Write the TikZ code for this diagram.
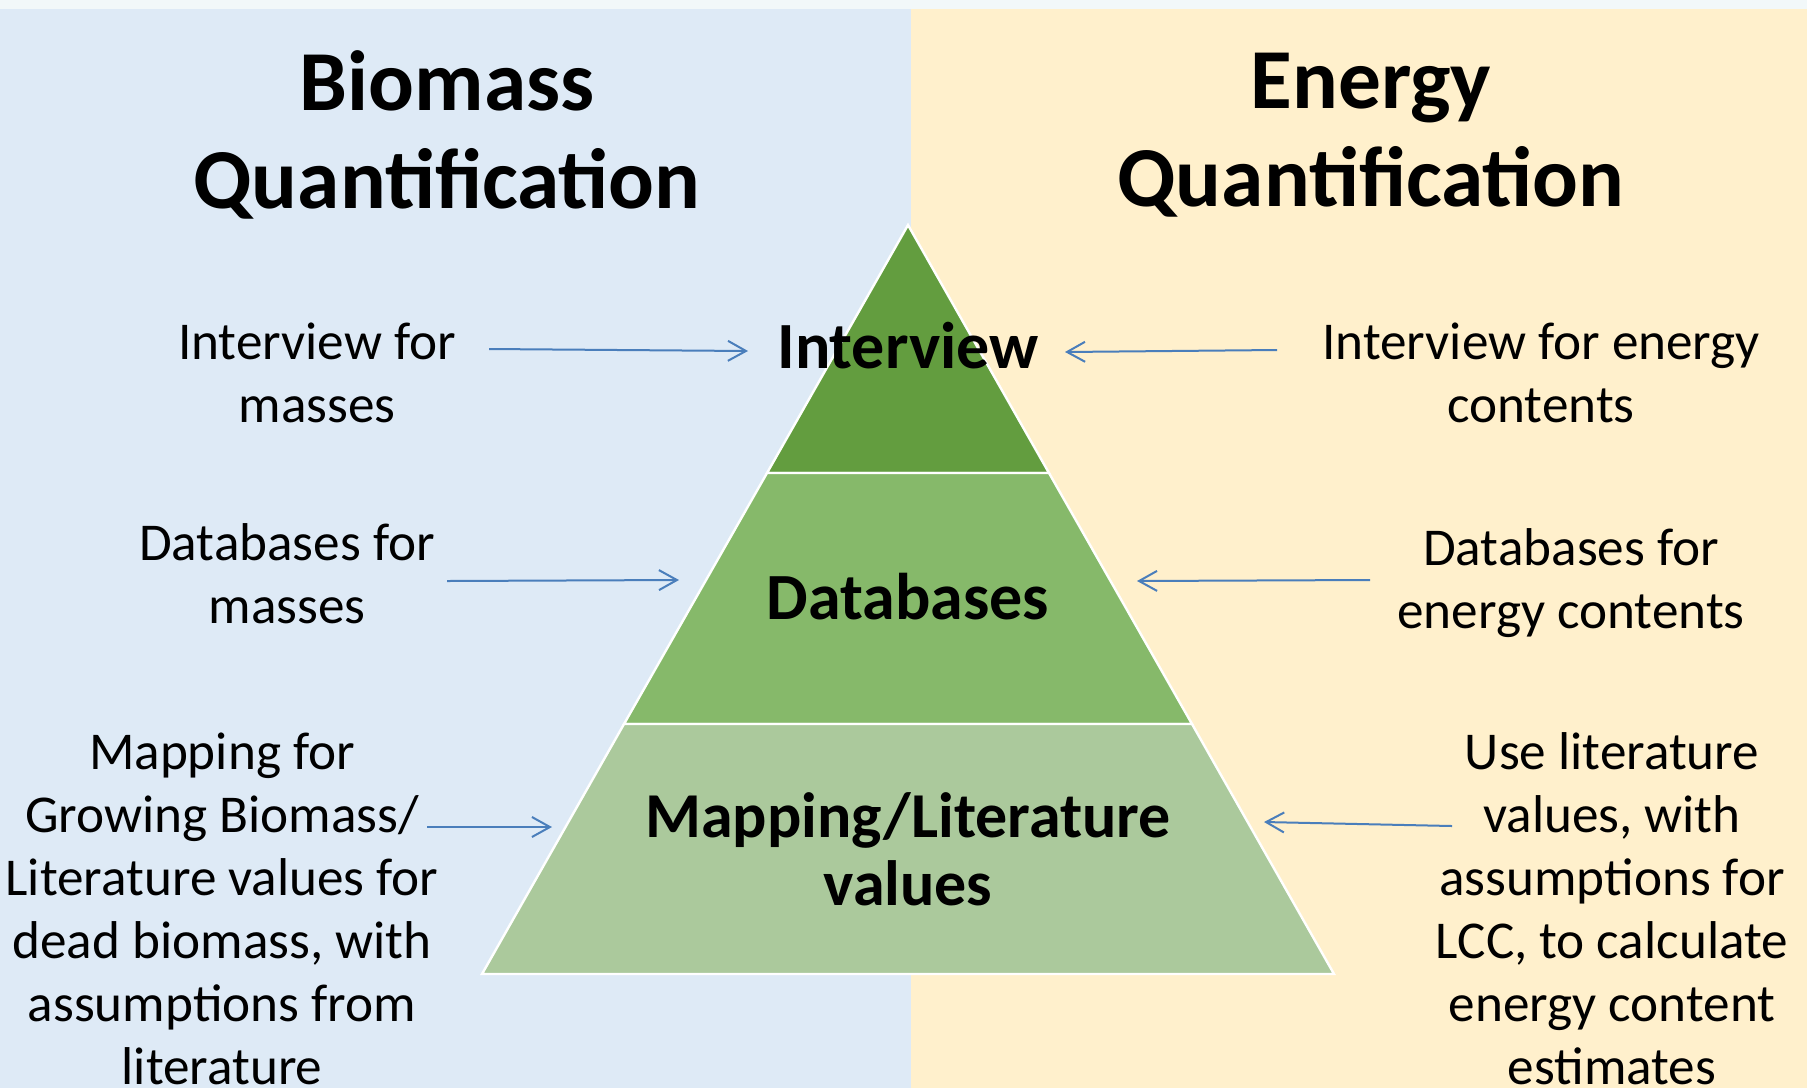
\documentclass[tikz,border=0pt]{standalone}
\usepackage{fontspec}
\setmainfont{Carlito}
\usetikzlibrary{arrows.meta}
\definecolor{topstrip}{RGB}{242,248,249}
\definecolor{bluebg}{RGB}{222,234,246}
\definecolor{yellowbg}{RGB}{255,240,204}
\definecolor{greenA}{RGB}{99,157,63}
\definecolor{greenB}{RGB}{134,185,106}
\definecolor{greenC}{RGB}{171,201,156}
\definecolor{arrowcol}{RGB}{74,126,187}
\tikzset{
  title/.style={align=center,font=\fontsize{42.7pt}{49pt}\selectfont\bfseries},
  side/.style={align=center,font=\fontsize{26.6pt}{31.5pt}\selectfont},
  tier/.style={align=center,font=\fontsize{33pt}{34pt}\selectfont\bfseries},
  tierfill/.style={draw=white,line width=1.2pt,line join=miter},
  conn/.style={draw=arrowcol,line width=1pt,-{Straight Barb[length=9pt,width=10pt,line width=1pt]}}
}
\begin{document}
\begin{tikzpicture}[x=0.5pt,y=-0.5pt]
\useasboundingbox (0,0) rectangle (1807,1088);
% backgrounds
\fill[topstrip] (0,0) rectangle (1807,9);
\fill[bluebg] (0,9) rectangle (911,1088);
\fill[yellowbg] (911,9) rectangle (1807,1088);
% pyramid tiers
\path[tierfill,fill=greenA] (908,225) -- (1049,473) -- (767,473) -- cycle;
\path[tierfill,fill=greenB] (767,473) -- (1049,473) -- (1192,724) -- (624,724) -- cycle;
\path[tierfill,fill=greenC] (624,724) -- (1192,724) -- (1334,974) -- (482,974) -- cycle;
% titles
\node[title] (tb) at (447,135) {Biomass\\Quantification};
\node[title] (te) at (1371,135) {Energy\\Quantification};
% tier labels
\node[tier] (t1) at (908,346) {Interview};
\node[tier] (t2) at (908,597) {Databases};
\node[tier,font=\fontsize{32pt}{34pt}\selectfont\bfseries] (t3) at (908,849) {Mapping/Literature\\values};
% side texts
\node[side] (l1) at (317,373) {Interview for\\masses};
\node[side] (r1) at (1541,373) {Interview for energy\\contents};
\node[side] (l2) at (287,574) {Databases for\\masses};
\node[side] (r2) at (1571,583) {Databases for\\energy contents};
\node[side] (l3) at (222,909) {Mapping for\\Growing Biomass/\\Literature values for\\dead biomass, with\\assumptions from\\literature};
\node[side] (r3) at (1612,909) {Use literature\\values, with\\assumptions for\\LCC, to calculate\\energy content\\estimates};
% connector endpoints
\coordinate (a1s) at (489,349); \coordinate (a1e) at (748,351);
\coordinate (a2s) at (1277,350); \coordinate (a2e) at (1065,352);
\coordinate (a3s) at (447,581); \coordinate (a3e) at (679,580);
\coordinate (a4s) at (1370,580); \coordinate (a4e) at (1137,581);
\coordinate (a5s) at (427,827); \coordinate (a5e) at (552,827);
\coordinate (a6s) at (1452,826); \coordinate (a6e) at (1264,822);
\draw[conn] (a1s) -- (a1e);
\draw[conn] (a2s) -- (a2e);
\draw[conn] (a3s) -- (a3e);
\draw[conn] (a4s) -- (a4e);
\draw[conn] (a5s) -- (a5e);
\draw[conn] (a6s) -- (a6e);
\end{tikzpicture}
\end{document}
